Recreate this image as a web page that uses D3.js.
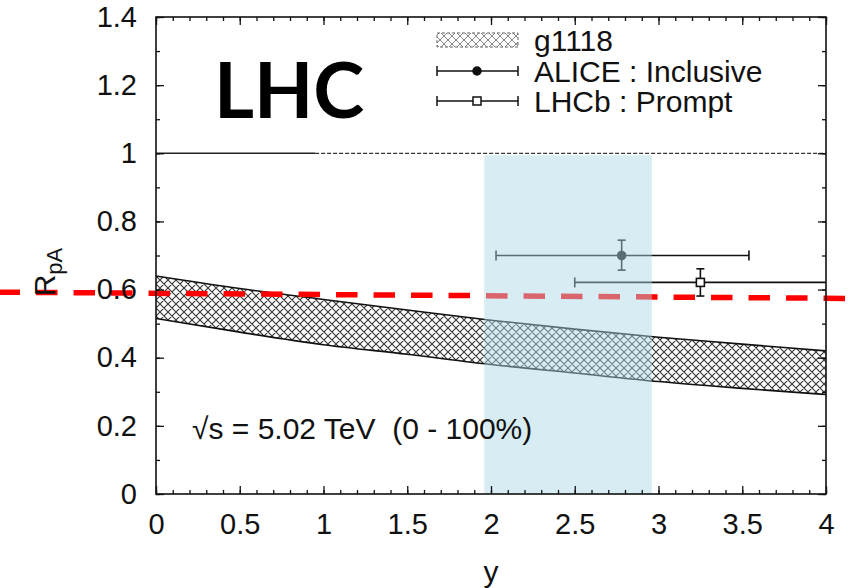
<!DOCTYPE html>
<html>
<head>
<meta charset="utf-8">
<script src="https://cdn.jsdelivr.net/npm/d3@7"></script>
<style>
  body { margin: 0; background: #fff; }
  svg { display: block; }
  text { font-family: "Liberation Sans", Arial, sans-serif; fill: #111; }
</style>
</head>
<body>
<div class="container"></div>
<script>
// model band (g1118) vs rapidity
const rapidity  = [0, 0.5, 1, 1.5, 2, 2.5, 3, 3.5, 4]
const bandUpper = [0.64, 0.603, 0.571, 0.54, 0.51, 0.484, 0.46, 0.44, 0.42]
const bandLower = [0.515, 0.475, 0.438, 0.41, 0.38, 0.355, 0.33, 0.31, 0.292]

// data points
const seriesNames = ["ALICE : Inclusive", "LHCb : Prompt"]
const pointY   = [2.78, 3.25]
const pointR   = [0.70, 0.621]
const pointYLo = [2.03, 2.50]
const pointYHi = [3.54, 4.10]
const pointRLo = [0.657, 0.581]
const pointRHi = [0.745, 0.661]

// shaded rapidity window
const windowY = [1.96, 2.96]
const windowR = [0, 1]

// hand drawn red reference line (ends outside the frame)
const redLineY = [-0.94, 4.14]
const redLineR = [0.5925, 0.574]

const xTicks = [0, 0.5, 1, 1.5, 2, 2.5, 3, 3.5, 4]
const xTickLabels = ["0", "0.5", "1", "1.5", "2", "2.5", "3", "3.5", "4"]
const yTicks = [0, 0.2, 0.4, 0.6, 0.8, 1, 1.2, 1.4]
const yTickLabels = ["0", "0.2", "0.4", "0.6", "0.8", "1", "1.2", "1.4"]

const w = 850
const h = 588

const svg = d3.select(".container")
  .append("svg")
  .attr("width", w)
  .attr("height", h)

const x = d3.scaleLinear().domain([0, 4]).range([156, 826])
const y = d3.scaleLinear().domain([0, 1.4]).range([494, 17])

const defs = svg.append("defs")
const pat = defs.append("pattern")
  .attr("id", "hatch")
  .attr("patternUnits", "userSpaceOnUse")
  .attr("width", 8)
  .attr("height", 8)
pat.append("path")
  .attr("d", "M0,0 L8,8 M8,0 L0,8 M-1,1 L1,-1 M7,9 L9,7 M-1,7 L1,9 M7,-1 L9,1")
  .attr("stroke", "#333")
  .attr("stroke-width", 1.1)

const patL = defs.append("pattern")
  .attr("id", "hatchLight")
  .attr("patternUnits", "userSpaceOnUse")
  .attr("width", 8)
  .attr("height", 8)
patL.append("path")
  .attr("d", "M0,0 L8,8 M8,0 L0,8")
  .attr("stroke", "#888")
  .attr("stroke-width", 1)

defs.append("clipPath").attr("id", "plotClip")
  .append("rect")
  .attr("x", x(0)).attr("y", y(1.4))
  .attr("width", x(4) - x(0)).attr("height", y(0) - y(1.4))

const plot = svg.append("g").attr("clip-path", "url(#plotClip)")

// band
const bandData = rapidity.map((v, i) => ({ y: v, lo: bandLower[i], hi: bandUpper[i] }))
plot.append("path")
  .datum(bandData)
  .attr("fill", "url(#hatch)")
  .attr("d", d3.area().x(d => x(d.y)).y0(d => y(d.lo)).y1(d => y(d.hi)).curve(d3.curveMonotoneX))
;["lo", "hi"].forEach(k => {
  plot.append("path")
    .datum(bandData)
    .attr("fill", "none")
    .attr("stroke", "#111")
    .attr("stroke-width", 1.6)
    .attr("d", d3.line().x(d => x(d.y)).y(d => y(d[k])).curve(d3.curveMonotoneX))
})

// R = 1 line
plot.append("line")
  .attr("x1", x(0)).attr("x2", x(0.95))
  .attr("y1", y(1)).attr("y2", y(1))
  .attr("stroke", "#222").attr("stroke-width", 1.5)
plot.append("line")
  .attr("x1", x(0.95)).attr("x2", x(4))
  .attr("y1", y(1)).attr("y2", y(1))
  .attr("stroke", "#333").attr("stroke-width", 1.3)
  .attr("stroke-dasharray", "4,2")

// error bars
seriesNames.forEach((name, i) => {
  const g = plot.append("g").attr("stroke", "#111").attr("stroke-width", 1.6)
  g.append("line")
    .attr("x1", x(pointYLo[i])).attr("x2", x(pointYHi[i]))
    .attr("y1", y(pointR[i])).attr("y2", y(pointR[i]))
  g.append("line")
    .attr("x1", x(pointY[i])).attr("x2", x(pointY[i]))
    .attr("y1", y(pointRLo[i])).attr("y2", y(pointRHi[i]))
  ;[pointYLo[i], pointYHi[i]].forEach(v => {
    g.append("line")
      .attr("x1", x(v)).attr("x2", x(v))
      .attr("y1", y(pointR[i]) - 5).attr("y2", y(pointR[i]) + 5)
  })
  ;[pointRLo[i], pointRHi[i]].forEach(v => {
    g.append("line")
      .attr("x1", x(pointY[i]) - 4).attr("x2", x(pointY[i]) + 4)
      .attr("y1", y(v)).attr("y2", y(v))
  })
  if (i === 0) {
    g.append("circle")
      .attr("cx", x(pointY[i])).attr("cy", y(pointR[i])).attr("r", 4)
      .attr("fill", "#111")
  } else {
    g.append("rect")
      .attr("x", x(pointY[i]) - 4).attr("y", y(pointR[i]) - 4)
      .attr("width", 8).attr("height", 8)
      .attr("fill", "#fff")
  }
})

// red dashed line
svg.append("line")
  .attr("x1", x(redLineY[0])).attr("x2", x(redLineY[1]))
  .attr("y1", y(redLineR[0])).attr("y2", y(redLineR[1]))
  .attr("stroke", "#ff0000")
  .attr("stroke-width", 5.5)
  .attr("stroke-dasharray", "21.5,16")

// light blue window
svg.append("rect")
  .attr("x", x(windowY[0]))
  .attr("y", y(windowR[1]) + 2)
  .attr("width", x(windowY[1]) - x(windowY[0]))
  .attr("height", y(windowR[0]) - y(windowR[1]) - 2)
  .attr("fill", "rgba(173,216,230,0.47)")

// frame and ticks
svg.append("rect")
  .attr("x", x(0)).attr("y", y(1.4))
  .attr("width", x(4) - x(0)).attr("height", y(0) - y(1.4))
  .attr("fill", "none").attr("stroke", "#111").attr("stroke-width", 1.6)

const minorX = d3.range(0, 4.001, 0.1)
const minorY = d3.range(0, 1.401, 0.1)

const addAxis = (axis, tf) => {
  const g = svg.append("g").attr("transform", tf).call(axis)
  g.select(".domain").remove()
  g.selectAll("line").attr("stroke", "#111").attr("stroke-width", 1.3)
  return g
}

addAxis(d3.axisBottom(x).tickValues(minorX).tickSize(-4).tickFormat(""), `translate(0,${y(0)})`)
addAxis(d3.axisTop(x).tickValues(minorX).tickSize(-4).tickFormat(""), `translate(0,${y(1.4)})`)
addAxis(d3.axisLeft(y).tickValues(minorY).tickSize(-4).tickFormat(""), `translate(${x(0)},0)`)
addAxis(d3.axisRight(y).tickValues(minorY).tickSize(-4).tickFormat(""), `translate(${x(4)},0)`)

const xb = addAxis(d3.axisBottom(x).tickValues(xTicks).tickSize(-8).tickPadding(19)
  .tickFormat((d, i) => xTickLabels[i]), `translate(0,${y(0)})`)
addAxis(d3.axisTop(x).tickValues(xTicks).tickSize(-8).tickFormat(""), `translate(0,${y(1.4)})`)
const yl = addAxis(d3.axisLeft(y).tickValues(yTicks).tickSize(-8).tickPadding(19)
  .tickFormat((d, i) => yTickLabels[i]), `translate(${x(0)},0)`)
addAxis(d3.axisRight(y).tickValues(yTicks).tickSize(-8).tickFormat(""), `translate(${x(4)},0)`)

xb.selectAll("text").attr("font-size", 29).attr("font-family", "Liberation Sans, Arial, sans-serif").attr("fill", "#111")
yl.selectAll("text").attr("font-size", 29).attr("font-family", "Liberation Sans, Arial, sans-serif").attr("fill", "#111")

// axis titles
svg.append("text")
  .attr("x", x(2)).attr("y", 582)
  .attr("text-anchor", "middle")
  .attr("font-size", 30)
  .text("y")

const rl = svg.append("text")
  .attr("transform", `translate(55,272) rotate(-90)`)
  .attr("text-anchor", "middle")
  .attr("font-size", 30)
rl.append("tspan").text("R")
rl.append("tspan").attr("font-size", 22).attr("dy", 7).text("pA")

// legend
svg.append("rect")
  .attr("x", 437).attr("y", 33).attr("width", 81).attr("height", 14)
  .attr("fill", "url(#hatchLight)")
  .attr("stroke", "#666").attr("stroke-width", 1).attr("stroke-dasharray", "3,2")

const legendRows = [71, 101]
seriesNames.forEach((name, i) => {
  const ly = legendRows[i]
  const g = svg.append("g").attr("stroke", "#111").attr("stroke-width", 1.5)
  g.append("line").attr("x1", 437).attr("x2", 518).attr("y1", ly).attr("y2", ly)
  g.append("line").attr("x1", 437).attr("x2", 437).attr("y1", ly - 5).attr("y2", ly + 5)
  g.append("line").attr("x1", 518).attr("x2", 518).attr("y1", ly - 5).attr("y2", ly + 5)
  if (i === 0) {
    g.append("circle").attr("cx", 477).attr("cy", ly).attr("r", 4).attr("fill", "#111")
  } else {
    g.append("rect").attr("x", 473).attr("y", ly - 4).attr("width", 8).attr("height", 8).attr("fill", "#fff")
  }
})

const legendTexts = ["g1118"].concat(seriesNames)
legendTexts.forEach((t, i) => {
  svg.append("text")
    .attr("x", 534).attr("y", 51 + i * 30.5)
    .attr("font-size", 30)
    .text(t)
})

// annotations
svg.append("text")
  .attr("x", 192).attr("y", 439)
  .attr("font-size", 30)
  .attr("xml:space", "preserve")
  .text("\u221As = 5.02 TeV  (0 - 100%)")

svg.append("text")
  .attr("x", 214).attr("y", 118)
  .attr("font-size", 77)
  .attr("font-weight", "bold")
  .style("font-family", "Lato, 'Open Sans', sans-serif")
  .style("fill", "#000")
  .text("LHC")
</script>
</body>
</html>
